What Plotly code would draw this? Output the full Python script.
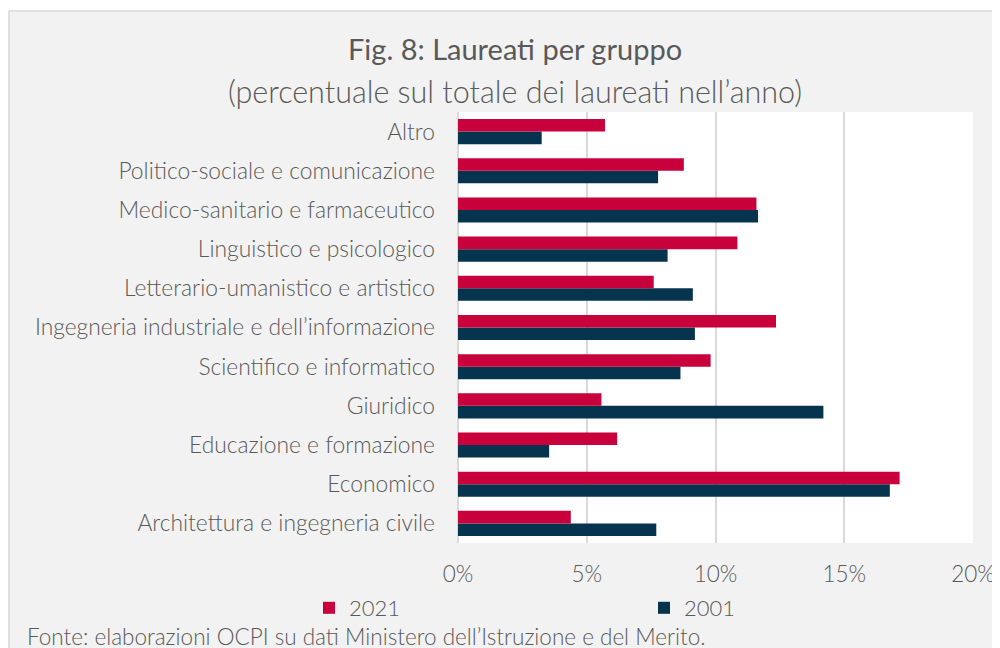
import plotly.graph_objects as go

# ---- data ----
categories = [
    "Architettura e ingegneria civile",
    "Economico",
    "Educazione e formazione",
    "Giuridico",
    "Scientifico e informatico",
    "Ingegneria industriale e dell’informazione",
    "Letterario-umanistico e artistico",
    "Linguistico e psicologico",
    "Medico-sanitario e farmaceutico",
    "Politico-sociale e comunicazione",
    "Altro",
]
values_2021 = [4.38, 17.15, 6.18, 5.57, 9.81, 12.35, 7.60, 10.85, 11.59, 8.77, 5.71]
values_2001 = [7.70, 16.77, 3.54, 14.19, 8.64, 9.20, 9.12, 8.14, 11.65, 7.77, 3.25]
series_names = ["2021", "2001"]
tick_values = [0, 5, 10, 15, 20]
tick_labels = ["0%", "5%", "10%", "15%", "20%"]

title_text = "Fig. 8: Laureati per gruppo"
subtitle_text = "(percentuale sul totale dei laureati nell’anno)"
source_text = "Fonte: elaborazioni OCPI su dati Ministero dell’Istruzione e del Merito."

# ---- layout geometry (figure pixels; page body adds an 8px offset) ----
OFF = 8
W, H = 1000, 648
ML, MT = 458 - OFF, 112 - OFF
MR = W - (973 - OFF)
MB = H - (543 - OFF)
PW = W - ML - MR
PH = H - MT - MB


def px_x(sx):
    """screen x -> paper x"""
    return (sx - OFF - ML) / PW


def px_y(sy):
    """screen y -> paper y"""
    return (H - MB - (sy - OFF)) / PH


FONT = "Lato, 'Open Sans', sans-serif"
GREY = "#595959"
RED = "#C8003C"
NAVY = "#06334D"
GRID = "#d9d9d9"

fig = go.Figure()
fig.add_trace(go.Bar(y=categories, x=values_2001, name=series_names[1], orientation="h",
                     marker=dict(color=NAVY, line=dict(width=0)), hoverinfo="x+y+name"))
fig.add_trace(go.Bar(y=categories, x=values_2021, name=series_names[0], orientation="h",
                     marker=dict(color=RED, line=dict(width=0)), hoverinfo="x+y+name"))

fig.update_layout(
    width=W, height=H,
    margin=dict(l=ML, r=MR, t=MT, b=MB, pad=0),
    paper_bgcolor="#f2f2f2",
    plot_bgcolor="white",
    barmode="group",
    bargap=0.36,
    bargroupgap=0,
    font=dict(family=FONT, size=22, color=GREY, weight=300),
    showlegend=True,
    legend=dict(
        orientation="h", traceorder="reversed",
        x=px_x(309), y=px_y(587), xanchor="left", yanchor="top",
        bgcolor="rgba(0,0,0,0)", font=dict(size=22, color=GREY, weight=300),
        entrywidth=290, entrywidthmode="pixels",
    ),
    xaxis=dict(
        range=[0, 20], tickvals=tick_values, ticktext=tick_labels,
        showgrid=True, gridcolor=GRID, gridwidth=1.5,
        zeroline=True, zerolinecolor=GRID, zerolinewidth=1.5,
        showline=False, ticks="", ticklabelstandoff=15, fixedrange=True,
        tickfont=dict(size=22.5, color=GREY, weight=300),
    ),
    yaxis=dict(
        categoryorder="array", categoryarray=categories,
        showgrid=False, zeroline=False, showline=False, ticks="",
        ticklabelstandoff=22, fixedrange=True,
        tickfont=dict(size=22.8, color=GREY, weight=300),
    ),
    shapes=[
        dict(type="rect", xref="paper", yref="paper", x0=px_x(0), x1=px_x(1020),
             y0=px_y(0), y1=px_y(10.5), fillcolor="white", line=dict(width=0), layer="above"),
        dict(type="line", xref="paper", yref="paper", x0=px_x(9), x1=px_x(1020),
             y0=px_y(11), y1=px_y(11), line=dict(color=GRID, width=1.5)),
        dict(type="line", xref="paper", yref="paper", x0=px_x(9), x1=px_x(9),
             y0=px_y(11), y1=px_y(670), line=dict(color=GRID, width=1.5)),
    ],
    annotations=[
        dict(text=title_text, xref="paper", yref="paper", x=px_x(515), y=px_y(49),
             xanchor="center", yanchor="middle", showarrow=False,
             font=dict(family=FONT, size=29, color=GREY, weight=400)),
        dict(text=subtitle_text, xref="paper", yref="paper", x=px_x(515), y=px_y(91),
             xanchor="center", yanchor="middle", showarrow=False,
             font=dict(family=FONT, size=30.5, color=GREY, weight=300)),
        dict(text=source_text, xref="paper", yref="paper", x=px_x(25), y=px_y(636),
             xanchor="left", yanchor="middle", showarrow=False,
             font=dict(family=FONT, size=22.5, color=GREY, weight=300)),
    ],
)

fig.write_html("out.html", config={"displayModeBar": False})
